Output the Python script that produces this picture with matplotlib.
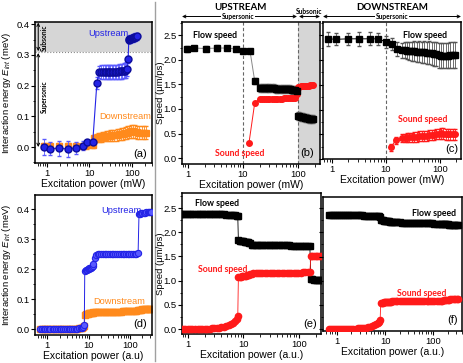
import numpy as np
import matplotlib
matplotlib.use('Agg')
import matplotlib.pyplot as plt
from matplotlib.ticker import FormatStrFormatter, MultipleLocator, LogLocator, NullFormatter

# ---------------- data ----------------
# (a) measured interaction energy
a_low_x = [0.85, 1.15, 1.9, 3.1, 4.8, 7.0, 8.8, 12.0, 15.0]
a_up_low = [0.000, -0.005, -0.004, -0.006, -0.003, 0.004, 0.015, 0.017, 0.208]
a_up_low_err = [0.025, 0.020, 0.025, 0.025, 0.020, 0.015, 0.008, 0.008, 0.020]
a_pl_x = [17, 19, 21, 23, 25, 27, 29, 31, 34, 37, 40, 43, 47, 51, 55, 60, 65, 70, 75, 79]
a_up_pl = [0.245, 0.244, 0.244, 0.244, 0.244, 0.244, 0.244, 0.244, 0.244, 0.244,
           0.245, 0.245, 0.245, 0.246, 0.246, 0.247, 0.248, 0.249, 0.251, 0.255]
a_up_pl_err = [0.020, 0.022, 0.022, 0.022, 0.022, 0.022, 0.022, 0.022, 0.022, 0.022,
               0.022, 0.022, 0.023, 0.023, 0.023, 0.024, 0.024, 0.025, 0.025, 0.025]
a_top_x = [82, 85, 88, 92, 96, 100, 105, 110, 115, 120, 125, 130]
a_up_top = [0.285, 0.350, 0.351, 0.352, 0.353, 0.354, 0.355, 0.356, 0.357, 0.358, 0.359, 0.360]
a_up_top_err = [0.010, 0.012, 0.012, 0.012, 0.012, 0.012, 0.012, 0.012, 0.012, 0.012, 0.012, 0.012]
a_dn_low = [0.003, 0.003, 0.003, 0.003, 0.004, 0.004, 0.005, 0.006]
a_dn_low_err = [0.010, 0.010, 0.010, 0.010, 0.010, 0.010, 0.010, 0.010]
a_dn_x = [13, 14.5, 16, 18, 20, 22, 25, 28, 31, 35, 39, 44, 49, 55, 62, 70, 78, 87, 97,
          108, 120, 135, 150, 170, 190, 215]
a_dn = [0.028, 0.030, 0.031, 0.032, 0.033, 0.034, 0.035, 0.036, 0.037, 0.038, 0.039, 0.040,
        0.041, 0.042, 0.043, 0.045, 0.047, 0.049, 0.051, 0.052, 0.050, 0.048, 0.047, 0.047,
        0.046, 0.046]
a_dn_err = [0.012, 0.013, 0.014, 0.015, 0.016, 0.016, 0.017, 0.017, 0.018, 0.018, 0.018, 0.019,
            0.019, 0.019, 0.020, 0.020, 0.020, 0.021, 0.021, 0.021, 0.021, 0.021, 0.021, 0.021,
            0.021, 0.021]

# (b) upstream speeds
b_low_x = [0.95, 1.3, 2.1, 3.4, 5.1, 7.4, 10, 13.4, 16.3]
b_flow_low = [2.22, 2.24, 2.23, 2.24, 2.24, 2.22, 2.18, 2.18, 1.57]
b_flow_low_err = [0.06, 0.05, 0.06, 0.06, 0.04, 0.03, 0.01, 0.01, 0.06]
b_pl_x = [20, 22, 24, 26, 28, 30, 33, 36, 39, 42, 46, 50, 55, 60, 65, 70, 76, 82, 88, 94]
b_flow_pl = [1.42, 1.42, 1.42, 1.42, 1.42, 1.42, 1.42, 1.42, 1.41, 1.41,
             1.41, 1.41, 1.41, 1.40, 1.40, 1.40, 1.39, 1.39, 1.38, 1.37]
b_flow_pl_err = [0.08, 0.08, 0.08, 0.08, 0.08, 0.08, 0.08, 0.08, 0.08, 0.08,
                 0.08, 0.08, 0.08, 0.08, 0.08, 0.08, 0.08, 0.08, 0.08, 0.08]
b_sub_x = [100, 106, 112, 118, 125, 132, 140, 148, 157, 166, 176, 186]
b_flow_sub = [0.86, 0.85, 0.84, 0.84, 0.83, 0.82, 0.82, 0.81, 0.80, 0.80, 0.80, 0.79]
b_flow_sub_err = [0.08, 0.08, 0.08, 0.08, 0.08, 0.08, 0.08, 0.08, 0.08, 0.08, 0.08, 0.08]
b_snd_low_x = [12.8, 16.3]
b_snd_low = [0.30, 1.12]
b_snd_pl = [1.21, 1.21, 1.21, 1.21, 1.21, 1.21, 1.21, 1.21, 1.21, 1.21,
            1.21, 1.21, 1.22, 1.22, 1.22, 1.22, 1.22, 1.22, 1.23, 1.30]
b_snd_sub = [1.45, 1.45, 1.46, 1.46, 1.46, 1.47, 1.47, 1.47, 1.47, 1.48, 1.48, 1.48]

# (c) downstream speeds
c_low_x = [0.85, 1.2, 2.0, 3.2, 5.0, 7.0, 10, 13, 16]
c_flow_low = [2.43, 2.42, 2.43, 2.43, 2.43, 2.43, 2.37, 2.33, 2.22]
c_flow_low_err = [0.14, 0.12, 0.12, 0.14, 0.13, 0.12, 0.12, 0.12, 0.14]
c_pl_x = [20, 22, 24, 27, 30, 33, 37, 41, 46, 51, 57, 63, 70, 78, 86, 95, 105, 116, 128, 141,
          156, 172, 190]
c_flow_pl = [2.20, 2.20, 2.19, 2.19, 2.18, 2.18, 2.17, 2.17, 2.16, 2.16, 2.15, 2.15, 2.14, 2.13,
             2.12, 2.10, 2.09, 2.09, 2.09, 2.09, 2.10, 2.10, 2.10]
c_flow_pl_err = [0.15, 0.16, 0.17, 0.18, 0.19, 0.20, 0.20, 0.21, 0.21, 0.22, 0.22, 0.23, 0.23,
                 0.24, 0.24, 0.25, 0.26, 0.26, 0.26, 0.26, 0.26, 0.26, 0.26]
c_snd_low_x = [12.5, 15]
c_snd_low = [0.24, 0.38]
c_snd_low_err = [0.07, 0.07]
c_snd_pl = [0.42, 0.43, 0.43, 0.44, 0.44, 0.45, 0.45, 0.46, 0.46, 0.47, 0.47, 0.48, 0.48, 0.49,
            0.50, 0.51, 0.52, 0.51, 0.50, 0.50, 0.50, 0.50, 0.50]
c_snd_pl_err = [0.08, 0.08, 0.09, 0.09, 0.09, 0.10, 0.10, 0.10, 0.10, 0.10, 0.10, 0.10, 0.10,
                0.10, 0.10, 0.10, 0.11, 0.11, 0.11, 0.11, 0.11, 0.11, 0.11]

# (d)-(f) simulation
s_x1 = [0.68, 0.75, 0.82, 0.9, 1.0, 1.1, 1.2, 1.35, 1.5, 1.65, 1.8, 2.0, 2.2, 2.45, 2.7, 3.0,
        3.3, 3.6, 4.0, 4.4, 4.9, 5.4, 6.0, 6.5, 7.0, 7.5, 7.9]
s_x2 = [8.1, 8.5, 9.0, 9.5, 10, 10.5, 11, 11.5, 12, 12.5, 13, 14, 15, 16.5, 18, 20, 22, 24.5,
        27, 30, 33, 36, 40, 44, 49, 54, 60, 66, 73, 80, 88, 97, 107, 118, 130, 143, 157]
s_x3 = [165, 175, 188, 200, 215, 230, 250, 270, 290, 310, 330]

d_up1 = [0.000, 0.000, 0.000, 0.000, 0.000, 0.000, 0.000, 0.000, 0.000, 0.000, 0.000, 0.000,
         0.000, 0.000, 0.000, 0.000, 0.000, 0.000, 0.000, 0.000, 0.001, 0.001, 0.002, 0.003,
         0.005, 0.008, 0.012]
d_up2 = [0.193, 0.196, 0.198, 0.200, 0.201, 0.202, 0.203, 0.204, 0.206, 0.209, 0.216, 0.236,
         0.246, 0.249, 0.250, 0.250, 0.250, 0.250, 0.250, 0.250, 0.250, 0.250, 0.250, 0.250,
         0.250, 0.250, 0.250, 0.250, 0.250, 0.250, 0.250, 0.250, 0.250, 0.251, 0.251, 0.251,
         0.252]
d_up3 = [0.383, 0.385, 0.386, 0.387, 0.388, 0.388, 0.389, 0.389, 0.390, 0.390, 0.390]
d_dn1 = [0.000, 0.000, 0.000, 0.000, 0.000, 0.000, 0.000, 0.000, 0.000, 0.000, 0.000, 0.000,
         0.000, 0.000, 0.000, 0.000, 0.000, 0.000, 0.000, 0.000, 0.001, 0.001, 0.002, 0.002,
         0.004, 0.006, 0.009]
d_dn2 = [0.048, 0.049, 0.050, 0.051, 0.052, 0.053, 0.053, 0.054, 0.055, 0.055, 0.056, 0.056,
         0.056, 0.056, 0.056, 0.057, 0.057, 0.057, 0.057, 0.057, 0.057, 0.058, 0.058, 0.058,
         0.058, 0.058, 0.058, 0.059, 0.059, 0.059, 0.059, 0.060, 0.060, 0.060, 0.061, 0.061,
         0.062]
d_dn3 = [0.064, 0.065, 0.065, 0.066, 0.066, 0.066, 0.067, 0.067, 0.067, 0.067, 0.067]

e_flow1 = [2.37, 2.37, 2.37, 2.37, 2.37, 2.37, 2.37, 2.37, 2.37, 2.37, 2.37, 2.37, 2.37, 2.37,
           2.37, 2.37, 2.37, 2.37, 2.37, 2.37, 2.36, 2.36, 2.36, 2.35, 2.35, 2.34, 2.33]
e_flow2 = [1.83, 1.82, 1.82, 1.81, 1.81, 1.80, 1.80, 1.79, 1.79, 1.78, 1.78, 1.74, 1.73, 1.73,
           1.73, 1.73, 1.73, 1.73, 1.73, 1.73, 1.73, 1.73, 1.73, 1.73, 1.73, 1.73, 1.73, 1.73,
           1.72, 1.72, 1.72, 1.72, 1.72, 1.72, 1.72, 1.72, 1.72]
e_flow3 = [1.03, 1.03, 1.02, 1.02, 1.02, 1.01, 1.01, 1.01, 1.00, 1.00, 1.00]
e_snd1 = [0.00, 0.00, 0.00, 0.00, 0.00, 0.00, 0.00, 0.00, 0.00, 0.00, 0.01, 0.01, 0.01, 0.01,
          0.02, 0.02, 0.03, 0.03, 0.04, 0.05, 0.06, 0.08, 0.10, 0.12, 0.16, 0.20, 0.27]
e_snd2 = [1.07, 1.08, 1.08, 1.09, 1.09, 1.10, 1.10, 1.11, 1.11, 1.12, 1.13, 1.14, 1.15, 1.15,
          1.15, 1.15, 1.15, 1.15, 1.15, 1.15, 1.15, 1.15, 1.16, 1.16, 1.16, 1.16, 1.16, 1.16,
          1.16, 1.16, 1.16, 1.16, 1.16, 1.17, 1.17, 1.17, 1.17]
e_snd3 = [1.52, 1.52, 1.52, 1.52, 1.52, 1.52, 1.52, 1.52, 1.52, 1.52, 1.52]

f_flow1 = [2.35, 2.35, 2.35, 2.35, 2.35, 2.35, 2.35, 2.35, 2.35, 2.35, 2.35, 2.35, 2.35, 2.35,
           2.35, 2.35, 2.35, 2.34, 2.34, 2.34, 2.34, 2.34, 2.34, 2.33, 2.33, 2.33, 2.32]
f_flow2 = [2.26, 2.25, 2.25, 2.24, 2.24, 2.24, 2.23, 2.23, 2.23, 2.22, 2.22, 2.22, 2.21, 2.21,
           2.21, 2.21, 2.20, 2.20, 2.20, 2.20, 2.20, 2.20, 2.20, 2.19, 2.19, 2.19, 2.19, 2.19,
           2.19, 2.19, 2.19, 2.19, 2.18, 2.18, 2.18, 2.18, 2.17]
f_flow3 = [2.17, 2.17, 2.17, 2.17, 2.16, 2.16, 2.16, 2.16, 2.16, 2.16, 2.16]
f_snd1 = [0.00, 0.00, 0.00, 0.00, 0.00, 0.00, 0.00, 0.00, 0.00, 0.01, 0.01, 0.01, 0.01, 0.01,
          0.02, 0.02, 0.02, 0.03, 0.03, 0.04, 0.05, 0.06, 0.08, 0.10, 0.12, 0.14, 0.18]
f_snd2 = [0.53, 0.54, 0.54, 0.55, 0.55, 0.55, 0.56, 0.56, 0.56, 0.56, 0.56, 0.57, 0.57, 0.57,
          0.57, 0.57, 0.57, 0.57, 0.57, 0.57, 0.57, 0.57, 0.57, 0.57, 0.57, 0.57, 0.57, 0.57,
          0.58, 0.58, 0.58, 0.58, 0.58, 0.58, 0.58, 0.58, 0.59]
f_snd3 = [0.60, 0.61, 0.61, 0.61, 0.61, 0.62, 0.62, 0.62, 0.62, 0.62, 0.62]

x_ticks = [1, 10, 100]
x_tick_labels = ['1', '10', '100']

# ---------------- style ----------------
plt.rcParams['font.family'] = ['Liberation Sans', 'DejaVu Sans']
plt.rcParams['mathtext.fontset'] = 'custom'
plt.rcParams['mathtext.rm'] = 'Liberation Sans'
plt.rcParams['mathtext.it'] = 'Liberation Sans:italic'

BLUE = '#2323e6'
BLUE_E = '#0c0c9a'
ORANGE = '#ff8a1c'
RED = '#ff1a1a'
GRAY_FILL = '#d6d6d6'
BOLD_FAM = ['Lato', 'DejaVu Sans']
TICK_FS = 6.8
XLAB_FS = 7.5
YLAB_FS = 6.8
NOTE_FS = 6.3
UD_FS = 6.7

W, H = 464, 363
fig = plt.figure(figsize=(W / 100, H / 100), dpi=100)


def rect(l, t, r, b):
    return [l / W, 1 - b / H, (r - l) / W, (b - t) / H]


def fx(x):
    return x / W


def fy(y):
    return 1 - y / H


def style(ax, xlim, ylim, ymaj, ymin, labelleft=True):
    ax.set_xscale('log')
    ax.set_xlim(*xlim)
    ax.set_ylim(*ylim)
    ax.set_xticks(x_ticks)
    ax.set_xticklabels(x_tick_labels)
    ax.xaxis.set_minor_locator(LogLocator(base=10, subs=np.arange(2, 10) * 1.0, numticks=20))
    ax.xaxis.set_minor_formatter(NullFormatter())
    ax.yaxis.set_major_locator(MultipleLocator(ymaj))
    ax.yaxis.set_minor_locator(MultipleLocator(ymin))
    ax.yaxis.set_major_formatter(FormatStrFormatter('%.1f'))
    ax.tick_params(which='major', direction='out', length=3, width=0.8, labelsize=TICK_FS, pad=1.0,
                   labelleft=labelleft)
    ax.tick_params(which='minor', direction='out', length=1.8, width=0.6)
    for s in ax.spines.values():
        s.set_linewidth(1.1)


# separator line between columns
fig.add_artist(plt.Line2D([fx(155), fx(155)], [fy(2), fy(361)], color='#a0a0a0', lw=1.0,
                          zorder=0))

# ---------------- (a) ----------------
ax_a = fig.add_axes(rect(35, 22, 152, 163))
style(ax_a, (0.52, 300), (-0.052, 0.407), 0.1, 0.05)
ax_a.axhspan(0.31, 0.5, color=GRAY_FILL, zorder=0, lw=0)
ax_a.axhline(0.31, color='#888888', lw=0.8, ls=':', zorder=1)
ax_a.errorbar(a_low_x[:8], a_dn_low, yerr=a_dn_low_err, fmt='s', color=ORANGE, ms=5,
              ecolor=ORANGE, elinewidth=0.6, capsize=1.5, zorder=2)
ax_a.errorbar(a_dn_x, a_dn, yerr=a_dn_err, fmt='s-', color=ORANGE, ms=5, lw=1,
              ecolor=ORANGE, elinewidth=0.6, capsize=1.5, zorder=2)
up_x_all = a_low_x + a_pl_x + a_top_x
up_all = a_up_low + a_up_pl + a_up_top
up_err_all = a_up_low_err + a_up_pl_err + a_up_top_err
ax_a.errorbar(up_x_all, up_all, yerr=up_err_all, fmt='o-', color=BLUE, mec=BLUE_E, ms=5,
              lw=0.8, ecolor='#5a5aff', elinewidth=0.6, capsize=1.5, zorder=3)
ax_a.annotate('', xy=(0.62, 0.405), xytext=(0.62, 0.312),
              arrowprops=dict(arrowstyle='<->', lw=0.7, mutation_scale=5, shrinkA=0, shrinkB=0))
ax_a.annotate('', xy=(0.62, 0.306), xytext=(0.62, 0.0),
              arrowprops=dict(arrowstyle='<->', lw=0.7, mutation_scale=5, shrinkA=0, shrinkB=0))
ax_a.text(0.88, 0.357, 'Subsonic', rotation=90, ha='center', va='center', fontsize=4.8,
          fontweight='bold', family=BOLD_FAM)
ax_a.text(0.88, 0.165, 'Supersonic', rotation=90, ha='center', va='center', fontsize=4.8,
          fontweight='bold', family=BOLD_FAM)
ax_a.text(0.63, 0.92, 'Upstream', transform=ax_a.transAxes, color=BLUE, fontsize=UD_FS,
          ha='center', va='center')
ax_a.text(0.77, 0.33, 'Downstream', transform=ax_a.transAxes, color=ORANGE, fontsize=UD_FS,
          ha='center', va='center')
ax_a.text(0.9, 0.065, '(a)', transform=ax_a.transAxes, fontsize=8, ha='center', va='center')
ax_a.set_xlabel('Excitation power (mW)', fontsize=XLAB_FS, labelpad=1)
ax_a.set_ylabel('Interaction energy $E_{int}$ (meV)', fontsize=YLAB_FS)
ax_a.yaxis.set_label_coords(-0.19, 0.5)

# ---------------- (b) ----------------
ax_b = fig.add_axes(rect(182, 22, 320, 164))
style(ax_b, (0.78, 250), (-0.12, 2.77), 0.5, 0.25)
ax_b.axvspan(100, 1000, color=GRAY_FILL, zorder=0, lw=0)
ax_b.axvline(10, color='#666666', lw=0.8, ls=(0, (3, 2)), zorder=1)
ax_b.axvline(100, color='#666666', lw=0.8, ls=(0, (3, 2)), zorder=1)
b_flow_x = b_low_x + b_pl_x + b_sub_x
b_flow = b_flow_low + b_flow_pl + b_flow_sub
b_flow_err = b_flow_low_err + b_flow_pl_err + b_flow_sub_err
ax_b.plot(b_low_x + b_pl_x, b_flow_low + b_flow_pl, color='#888888', lw=0.7, zorder=2)
ax_b.errorbar(b_flow_x, b_flow, yerr=b_flow_err, fmt='s', color='black', ms=4,
              ecolor='#777777', elinewidth=0.6, capsize=1.5, zorder=3)
b_snd_x = b_snd_low_x + b_pl_x + b_sub_x
b_snd = b_snd_low + b_snd_pl + b_snd_sub
ax_b.plot(b_snd_x, b_snd, 'o-', color=RED, ms=4, lw=0.7, zorder=3)
ax_b.text(0.24, 0.905, 'Flow speed', transform=ax_b.transAxes, fontsize=NOTE_FS,
          fontweight='bold', family=BOLD_FAM, ha='center', va='center')
ax_b.text(0.42, 0.075, 'Sound speed', transform=ax_b.transAxes, fontsize=NOTE_FS,
          fontweight='bold', family=BOLD_FAM, color=RED, ha='center', va='center')
ax_b.text(0.91, 0.08, '(b)', transform=ax_b.transAxes, fontsize=8, ha='center', va='center')
ax_b.set_xlabel('Excitation power (mW)', fontsize=XLAB_FS, labelpad=1)
ax_b.set_ylabel('Speed (\u03bcm/ps)', fontsize=YLAB_FS)
ax_b.yaxis.set_label_coords(-0.125, 0.5)

# ---------------- (c) ----------------
ax_c = fig.add_axes(rect(323, 22, 461, 159))
style(ax_c, (0.68, 245), (0.0, 2.77), 0.5, 0.25, labelleft=False)
ax_c.axvline(10, color='#666666', lw=0.8, ls=(0, (3, 2)), zorder=1)
c_flow_x = c_low_x + c_pl_x
c_flow = c_flow_low + c_flow_pl
c_flow_err = c_flow_low_err + c_flow_pl_err
ax_c.errorbar(c_flow_x, c_flow, yerr=c_flow_err, fmt='s-', color='black', ms=4, lw=0.7,
              ecolor='#555555', elinewidth=0.6, capsize=1.5, zorder=3)
c_snd_x = c_snd_low_x + c_pl_x
c_snd = c_snd_low + c_snd_pl
c_snd_err = c_snd_low_err + c_snd_pl_err
ax_c.errorbar(c_snd_x, c_snd, yerr=c_snd_err, fmt='o-', color=RED, ms=4, lw=0.7,
              ecolor=RED, elinewidth=0.6, capsize=1.5, zorder=3)
ax_c.text(0.74, 0.9, 'Flow speed', transform=ax_c.transAxes, fontsize=NOTE_FS,
          fontweight='bold', family=BOLD_FAM, ha='center', va='center')
ax_c.text(0.72, 0.285, 'Sound speed', transform=ax_c.transAxes, fontsize=NOTE_FS,
          fontweight='bold', family=BOLD_FAM, color=RED, ha='center', va='center')
ax_c.text(0.93, 0.07, '(c)', transform=ax_c.transAxes, fontsize=8, ha='center', va='center')
ax_c.set_xlabel('Excitation power (mW)', fontsize=XLAB_FS, labelpad=1)

# ---------------- (d) ----------------
ax_d = fig.add_axes(rect(35, 195, 152, 335))
style(ax_d, (0.51, 340), (-0.02, 0.447), 0.1, 0.05)
ax_d.plot(s_x1 + s_x2 + s_x3, d_dn1 + d_dn2 + d_dn3, 's-', color=ORANGE, ms=4.5, lw=0.8, zorder=2)
ax_d.plot(s_x1 + s_x2 + s_x3, d_up1 + d_up2 + d_up3, 'o-', color=BLUE, mfc='#5a5aff', mec=BLUE,
          ms=4.5, mew=0.8, lw=0.7, zorder=3)
ax_d.text(0.74, 0.89, 'Upstream', transform=ax_d.transAxes, color=BLUE, fontsize=UD_FS,
          ha='center', va='center')
ax_d.text(0.72, 0.24, 'Downstream', transform=ax_d.transAxes, color=ORANGE, fontsize=UD_FS,
          ha='center', va='center')
ax_d.text(0.9, 0.08, '(d)', transform=ax_d.transAxes, fontsize=8, ha='center', va='center')
ax_d.set_xlabel('Excitation power (a.u)', fontsize=XLAB_FS, labelpad=1)
ax_d.set_ylabel('Interaction energy $E_{int}$ (meV)', fontsize=YLAB_FS)
ax_d.yaxis.set_label_coords(-0.19, 0.5)

# ---------------- (e) ----------------
ax_e = fig.add_axes(rect(182, 193, 321, 334))
style(ax_e, (0.78, 250), (-0.1, 2.81), 0.5, 0.25)
ax_e.plot(s_x1 + s_x2 + s_x3, e_flow1 + e_flow2 + e_flow3, 's-', color='black', ms=4, lw=0.6,
          zorder=3)
ax_e.plot(s_x1 + s_x2 + s_x3, e_snd1 + e_snd2 + e_snd3, 'o-', color=RED, ms=4.5, lw=0.6,
          zorder=3)
ax_e.text(0.25, 0.925, 'Flow speed', transform=ax_e.transAxes, fontsize=NOTE_FS,
          fontweight='bold', family=BOLD_FAM, ha='center', va='center')
ax_e.text(0.29, 0.46, 'Sound speed', transform=ax_e.transAxes, fontsize=NOTE_FS,
          fontweight='bold', family=BOLD_FAM, color=RED, ha='center', va='center')
ax_e.text(0.92, 0.07, '(e)', transform=ax_e.transAxes, fontsize=8, ha='center', va='center')
ax_e.set_xlabel('Excitation power (a.u.)', fontsize=XLAB_FS, labelpad=1)
ax_e.set_ylabel('Speed (\u03bcm/ps)', fontsize=YLAB_FS)
ax_e.yaxis.set_label_coords(-0.125, 0.5)

# ---------------- (f) ----------------
ax_f = fig.add_axes(rect(323, 197, 462, 331))
style(ax_f, (0.51, 400), (-0.04, 2.73), 0.5, 0.25, labelleft=False)
ax_f.plot(s_x1 + s_x2 + s_x3, f_flow1 + f_flow2 + f_flow3, 's-', color='black', ms=4, lw=0.6,
          zorder=3)
ax_f.plot(s_x1 + s_x2 + s_x3, f_snd1 + f_snd2 + f_snd3, 'o-', color=RED, ms=4.5, lw=0.6,
          zorder=3)
ax_f.text(0.8, 0.875, 'Flow speed', transform=ax_f.transAxes, fontsize=NOTE_FS,
          fontweight='bold', family=BOLD_FAM, ha='center', va='center')
ax_f.text(0.71, 0.28, 'Sound speed', transform=ax_f.transAxes, fontsize=NOTE_FS,
          fontweight='bold', family=BOLD_FAM, color=RED, ha='center', va='center')
ax_f.text(0.93, 0.08, '(f)', transform=ax_f.transAxes, fontsize=8, ha='center', va='center')
ax_f.set_xlabel('Excitation power (a.u.)', fontsize=XLAB_FS, labelpad=1)

# ---------------- top annotations ----------------
fig.text(fx(240), fy(8), 'UPSTREAM', fontsize=7, fontweight='bold', family=BOLD_FAM,
         ha='center', va='center')
fig.text(fx(392), fy(8), 'DOWNSTREAM', fontsize=7, fontweight='bold', family=BOLD_FAM,
         ha='center', va='center')


def harrow(x0, x1, y):
    fig.add_artist(matplotlib.patches.FancyArrowPatch(
        (fx(x0), fy(y)), (fx(x1), fy(y)), transform=fig.transFigure,
        arrowstyle='<->', mutation_scale=5, lw=0.7, color='black', shrinkA=0, shrinkB=0))


harrow(182, 297, 16.5)
harrow(299, 320, 16.5)
harrow(323, 461, 16.5)
fig.text(fx(238), fy(16), 'Supersonic', fontsize=4.8, fontweight='bold', family=BOLD_FAM,
         ha='center', va='center', bbox=dict(facecolor='white', edgecolor='none', pad=0.5))
fig.text(fx(309), fy(11), 'Subsonic', fontsize=4.8, fontweight='bold', family=BOLD_FAM,
         ha='center', va='center')
fig.text(fx(392), fy(16), 'Supersonic', fontsize=4.8, fontweight='bold', family=BOLD_FAM,
         ha='center', va='center', bbox=dict(facecolor='white', edgecolor='none', pad=0.5))

fig.savefig('out.png', dpi=100)
